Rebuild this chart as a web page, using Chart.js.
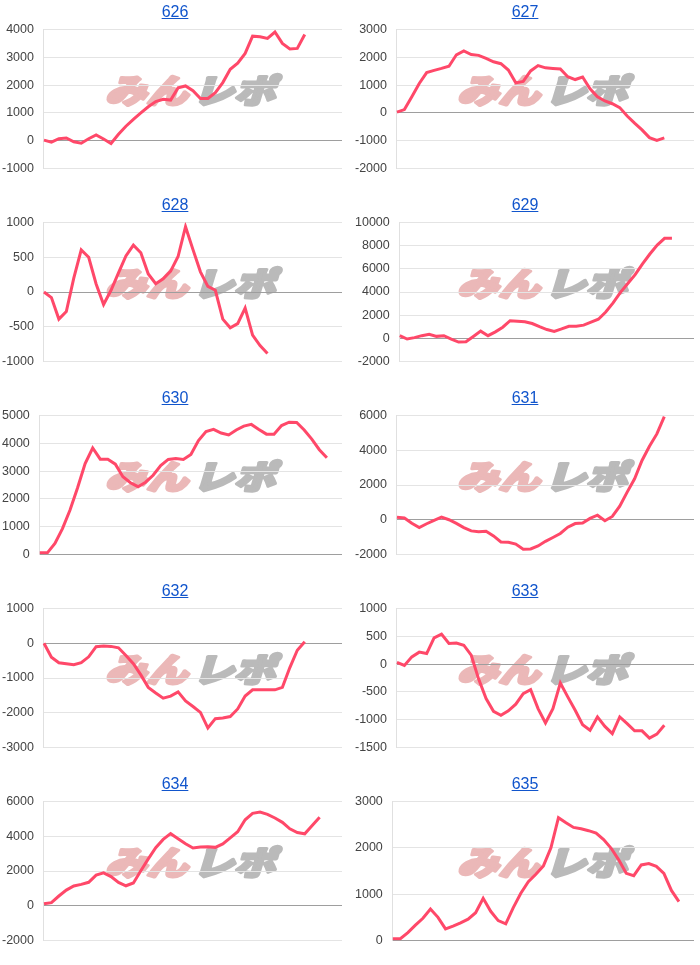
<!DOCTYPE html>
<html>
<head>
<meta charset="utf-8">
<script src="https://cdn.jsdelivr.net/npm/chart.js@4.4.1/dist/chart.umd.min.js"></script>
<style>
  body { margin: 0; background: #fff; font-family: "Liberation Sans", Arial, sans-serif; }
  #grid { position: relative; width: 700px; height: 965px; }
  .cell { position: absolute; width: 350px; height: 193px; }
  .ttl { position: absolute; left: 0; top: 0; width: 350px; text-align: center; line-height: 24px; font-size: 16px; z-index: 2; }
  .ttl a { color: #1155cc; text-decoration: underline; }
  .cv { position: absolute; top: 12px; height: 174px; }
</style>
</head>
<body>
<div id="grid"></div>
<script>
const titles = ['626', '627', '628', '629', '630', '631', '632', '633', '634', '635'];
const slots = ['1','2','3','4','5','6','7','8','9','10','11','12','13','14','15','16','17','18','19','20',
  '21','22','23','24','25','26','27','28','29','30','31','32','33','34','35','36','37','38','39','40','41'];

const s626 = [20, -50, 70, 100, -40, -90, 70, 210, 60, -100, 230, 520, 770, 1000, 1220, 1410, 1490, 1460,
  1900, 1970, 1800, 1520, 1520, 1730, 2090, 2570, 2790, 3140, 3760, 3740, 3680, 3910, 3500, 3300, 3320, 3820];
const s627 = [30, 120, 580, 1060, 1450, 1530, 1600, 1680, 2090, 2230, 2100, 2070, 1960, 1840, 1770, 1540,
  1080, 1130, 1510, 1700, 1620, 1600, 1580, 1300, 1200, 1290, 870, 580, 430, 330, 190, -110, -370, -610, -890, -990, -900];
const s628 = [0, -80, -390, -280, 200, 605, 500, 115, -180, 25, 275, 520, 675, 565, 260, 120, 190, 300,
  510, 940, 610, 290, 80, 25, -390, -515, -455, -230, -620, -770, -885];
const s629 = [230, -60, 60, 230, 340, 170, 230, -60, -320, -300, 160, 620, 230, 560, 960, 1520, 1480, 1430,
  1280, 1010, 760, 600, 810, 1040, 1040, 1140, 1400, 1650, 2270, 3060, 3970, 4740, 5500, 6430, 7280, 8050, 8630, 8630];
const s630 = [60, 60, 400, 930, 1600, 2400, 3270, 3830, 3430, 3430, 3250, 2800, 2580, 2440, 2600, 2850, 3200,
  3420, 3450, 3420, 3600, 4100, 4420, 4500, 4370, 4300, 4480, 4620, 4680, 4500, 4330, 4330, 4640, 4760, 4750,
  4480, 4150, 3770, 3480];
const s631 = [150, 100, -200, -450, -230, -30, 150, 0, -210, -450, -640, -690, -660, -930, -1280, -1300, -1400,
  -1700, -1680, -1510, -1240, -1020, -790, -430, -220, -190, 80, 260, -60, 190, 780, 1590, 2360, 3410, 4230, 4940, 5930];
const s632 = [0, -400, -560, -590, -620, -560, -390, -100, -80, -90, -130, -350, -590, -910, -1270, -1430, -1580,
  -1520, -1400, -1660, -1820, -1990, -2440, -2170, -2150, -2110, -1890, -1520, -1340, -1340, -1340, -1340, -1270, -700, -200, 40];
const s633 = [30, -25, 130, 215, 190, 470, 540, 370, 380, 340, 160, -270, -620, -850, -920, -840, -720, -530,
  -460, -800, -1060, -800, -340, -590, -830, -1090, -1190, -950, -1120, -1250, -950, -1070, -1200, -1200, -1330, -1260, -1100];
const s634 = [110, 180, 560, 900, 1140, 1230, 1350, 1760, 1890, 1680, 1340, 1150, 1310, 2010, 2700, 3340, 3820,
  4150, 3860, 3570, 3320, 3380, 3390, 3360, 3560, 3910, 4260, 4950, 5320, 5390, 5260, 5050, 4800, 4430, 4210, 4140, 4620, 5100];
const s635 = [40, 40, 170, 330, 480, 680, 500, 250, 310, 380, 460, 600, 910, 630, 430, 360, 710, 1020, 1270,
  1430, 1610, 2000, 2650, 2540, 2440, 2410, 2370, 2320, 2180, 1990, 1740, 1450, 1400, 1630, 1660, 1600, 1450, 1080, 840];

const series = [s626, s627, s628, s629, s630, s631, s632, s633, s634, s635];
const yMin = [-1000, -2000, -1000, -2000, 0, -2000, -3000, -1500, -2000, 0];
const yMax = [4000, 3000, 1000, 10000, 5000, 6000, 1000, 1000, 6000, 3000];
const yStep = [1000, 1000, 500, 2000, 1000, 2000, 1000, 500, 2000, 1000];

// site logo drawn under the grid
const watermark = {
  id: 'watermark',
  beforeDraw(chart, args, opts) {
    const ctx = chart.ctx;
    ctx.save();
    ctx.translate(opts.x, opts.y);
    ctx.transform(1, 0, -0.3, 1, 0, 0);
    ctx.scale(1.25, 1);
    ctx.font = '900 33px "Noto Sans CJK JP"';
    ctx.textBaseline = 'middle';
    ctx.lineJoin = 'round';
    ctx.lineWidth = 3;
    const a = 'みん', b = 'レポ';
    const wa = ctx.measureText(a).width, wb = ctx.measureText(b).width;
    const gap = 4;
    const x = -(wa + wb + gap) / 2;
    ctx.fillStyle = ctx.strokeStyle = '#ebb8b8';
    ctx.fillText(a, x, 0);
    ctx.strokeText(a, x, 0);
    ctx.fillStyle = ctx.strokeStyle = '#bababa';
    ctx.fillText(b, x + wa + gap, 0);
    ctx.strokeText(b, x + wa + gap, 0);
    ctx.restore();
  }
};

const grid = document.getElementById('grid');
titles.forEach((t, i) => {
  const col = i % 2, row = Math.floor(i / 2);
  const cell = document.createElement('div');
  cell.className = 'cell';
  cell.style.left = (col * 350) + 'px';
  cell.style.top = (row * 193) + 'px';
  cell.innerHTML = '<div class="ttl"><a href="#">' + t + '</a></div>';
  const box = document.createElement('div');
  box.className = 'cv';
  box.style.left = '0px';
  box.style.width = (col === 0 ? 342 : 344) + 'px';
  const cv = document.createElement('canvas');
  box.appendChild(cv);
  cell.appendChild(box);
  grid.appendChild(cell);

  new Chart(cv.getContext('2d'), {
    type: 'line',
    data: {
      labels: slots,
      datasets: [{
        data: series[i],
        borderColor: 'rgb(255, 72, 105)',
        borderWidth: 3,
        pointRadius: 0,
        tension: 0,
        fill: false
      }]
    },
    plugins: [watermark],
    options: {
      responsive: true,
      maintainAspectRatio: false,
      animation: false,
      events: [],
      layout: { padding: { left: col === 0 ? 2 : 5, right: 0, top: 0, bottom: 0 } },
      plugins: {
        legend: { display: false },
        tooltip: { enabled: false },
        watermark: { x: col === 0 ? 194 : 196, y: 78 }
      },
      scales: {
        x: { display: false },
        y: {
          min: yMin[i],
          max: yMax[i],
          afterFit: s => { s.width -= 10; },
          ticks: {
            stepSize: yStep[i],
            padding: 10,
            color: '#444',
            font: { family: '"Liberation Sans", Arial, sans-serif', size: 12.5 },
            callback: v => String(v)
          },
          border: { display: true, color: '#e0e0e0' },
          grid: {
            drawTicks: false,
            color: c => c.tick && c.tick.value === 0 ? '#9e9e9e' : '#e4e4e4',
            lineWidth: 1
          }
        }
      }
    }
  });
});
</script>
</body>
</html>
